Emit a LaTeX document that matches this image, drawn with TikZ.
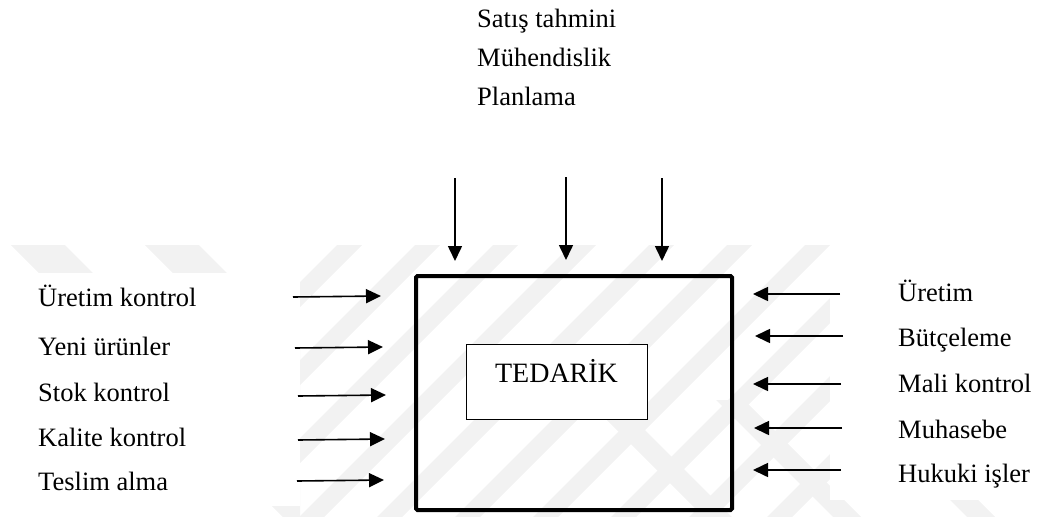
\documentclass[tikz,border=0pt]{standalone}
\usepackage{fontspec}
\setmainfont{Liberation Serif}
\usetikzlibrary{arrows.meta}
\begin{document}
\begin{tikzpicture}[x=1pt,y=-1pt,
  lbl/.style={font=\fontsize{26.5}{30}\selectfont, inner sep=0pt},
  feed/.style={line width=1.6pt, -{Triangle[length=15pt,width=14pt]}},
  wm/.style={fill=black!5, draw=none},
  blank/.style={fill=white, draw=none}]
\useasboundingbox (0,0) rectangle (1037,517);

% faint background pattern
\begin{scope}
  \clip (300,245) rectangle (830,517);
  \foreach \c in {582,660,738,816,894,972,1050,1128,1206,1284}
    \fill[wm] (\c-245,245) -- (\c+25-245,245) -- (\c+25-517,517) -- (\c-517,517) -- cycle;
\end{scope}
\begin{scope}
  \clip (0,245) rectangle (300,517);
  \foreach \c in {-234,-100}
    \fill[wm] (\c+245,245) -- (\c+54+245,245) -- (\c+54+517,517) -- (\c+517,517) -- cycle;
\end{scope}
\begin{scope}
  \clip (560,400) rectangle (1037,517);
  \foreach \c in {187,316,450}
    \fill[wm] (\c+400,400) -- (\c+28+400,400) -- (\c+28+517,517) -- (\c+517,517) -- cycle;
\end{scope}
\fill[blank] (0,273) rectangle (300,506);
\fill[blank] (830,265) rectangle (1037,500);

% inputs from above
\node[lbl, anchor=base west] (sat) at (477,27) {Satış tahmini};
\node[lbl, anchor=base west] (muh) at (477,66) {Mühendislik};
\node[lbl, anchor=base west] (pln) at (477,105) {Planlama};

% central function
\node[draw, line width=4pt, rounded corners=1.5pt, minimum width=316pt, minimum height=234pt] (proc) at (574,393) {};
\node[draw, line width=0.9pt, fill=white, minimum width=181pt, minimum height=75pt] (core) at (556.5,381.5) {};
\node[font=\fontsize{28}{32}\selectfont, inner sep=0pt, anchor=base] (ted) at (556.5,382) {TEDARİK};

% left-hand labels
\node[lbl, anchor=base west] (l1) at (38,306) {Üretim kontrol};
\node[lbl, anchor=base west] (l2) at (38,355) {Yeni ürünler};
\node[lbl, anchor=base west] (l3) at (38,401) {Stok kontrol};
\node[lbl, anchor=base west] (l4) at (38,446) {Kalite kontrol};
\node[lbl, anchor=base west] (l5) at (38,490) {Teslim alma};

% right-hand labels
\node[lbl, anchor=base west] (r1) at (898,301) {Üretim};
\node[lbl, anchor=base west] (r2) at (898,346) {Bütçeleme};
\node[lbl, anchor=base west] (r3) at (898,392) {Mali kontrol};
\node[lbl, anchor=base west] (r4) at (898,438) {Muhasebe};
\node[lbl, anchor=base west] (r5) at (898,482) {Hukuki işler};

% arrow end points
\coordinate (t1s) at (455,178); \coordinate (t1e) at (455,261);
\coordinate (t2s) at (566,177); \coordinate (t2e) at (566,260);
\coordinate (t3s) at (662,178); \coordinate (t3e) at (662,261);

\coordinate (l1s) at (293,297); \coordinate (l1e) at (381,296);
\coordinate (l2s) at (295,348); \coordinate (l2e) at (383,347);
\coordinate (l3s) at (298,396); \coordinate (l3e) at (386,395);
\coordinate (l4s) at (298,440); \coordinate (l4e) at (385,439);
\coordinate (l5s) at (297,481); \coordinate (l5e) at (384,480);

\coordinate (r1s) at (840,294); \coordinate (r1e) at (753,294);
\coordinate (r2s) at (843,336); \coordinate (r2e) at (755,336);
\coordinate (r3s) at (841,384); \coordinate (r3e) at (753,384);
\coordinate (r4s) at (842,428); \coordinate (r4e) at (754,428);
\coordinate (r5s) at (841,470); \coordinate (r5e) at (753,470);

\foreach \a in {t1,t2,t3,l1,l2,l3,l4,l5,r1,r2,r3,r4,r5}
  \draw[feed] (\a s) -- (\a e);
\end{tikzpicture}
\end{document}
